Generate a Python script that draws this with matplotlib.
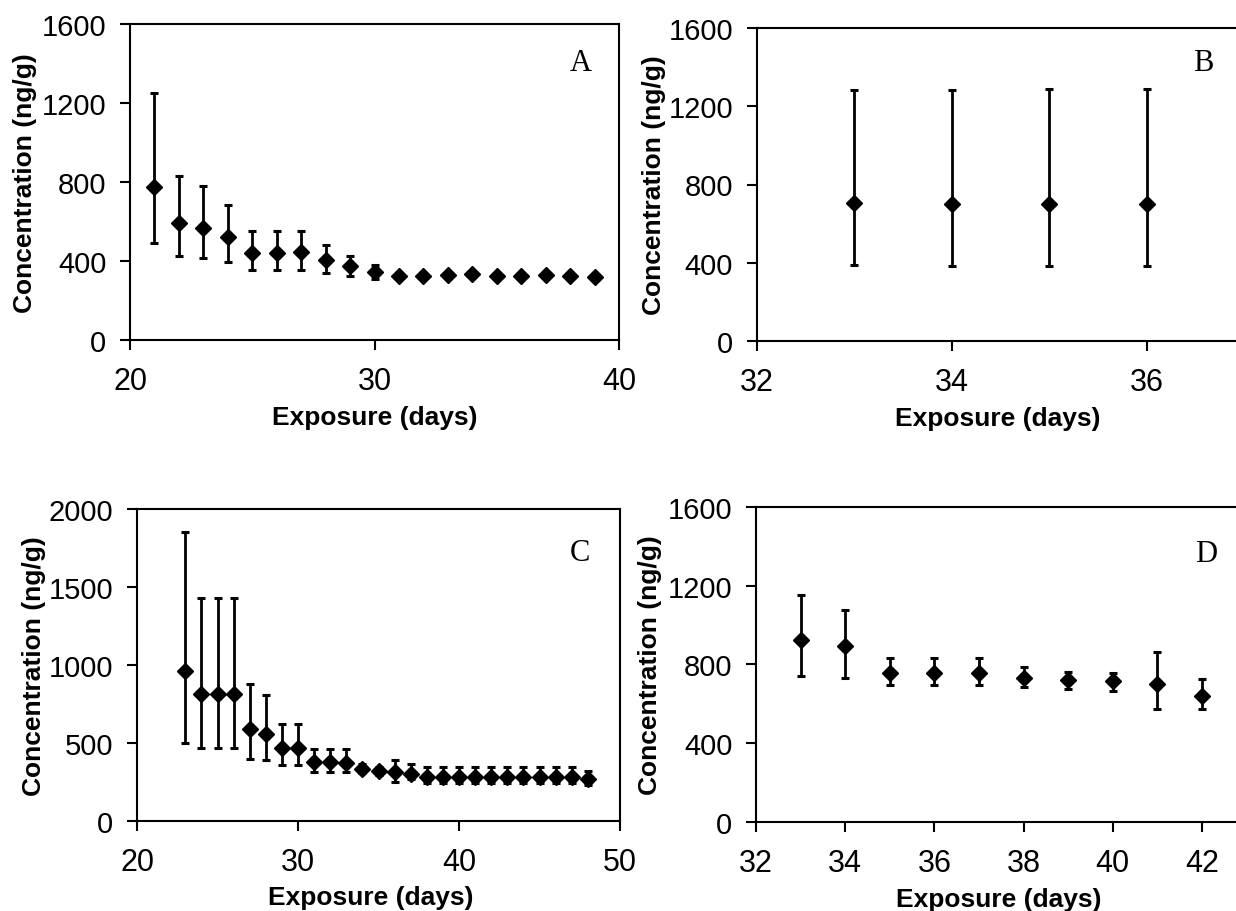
import matplotlib
matplotlib.use("Agg")
import matplotlib.pyplot as plt

# Panel A
days_a = list(range(21, 40))
conc_a = [777, 592, 567, 520, 439, 439, 444, 407, 373, 343,
          326, 326, 329, 334, 326, 326, 329, 326, 321]
low_a = [491, 424, 415, 396, 356, 356, 356, 339, 322, 309,
         316, 316, 319, 324, 316, 316, 319, 316, 311]
high_a = [1251, 832, 778, 685, 550, 550, 550, 479, 425, 380,
          336, 336, 339, 344, 336, 336, 339, 336, 331]

# Panel B
days_b = [33, 34, 35, 36]
conc_b = [703, 700, 700, 700]
low_b = [388, 384, 384, 384]
high_b = [1283, 1284, 1286, 1286]

# Panel C
days_c = list(range(23, 49))
conc_c = [959, 813, 813, 813, 589, 557, 465, 471, 379, 379, 375, 336, 321,
          315, 300, 285, 285, 285, 285, 285, 285, 285, 285, 285, 285, 268]
low_c = [497, 467, 467, 467, 396, 392, 358, 358, 315, 315, 315, 306, 293,
         250, 268, 246, 246, 246, 246, 246, 246, 246, 246, 246, 246, 229]
high_c = [1855, 1432, 1432, 1432, 878, 809, 621, 621, 460, 460, 460, 364, 343,
          392, 364, 343, 343, 343, 343, 343, 343, 343, 343, 343, 343, 321]

# Panel D
days_d = list(range(33, 43))
conc_d = [925, 891, 755, 755, 755, 730, 718, 713, 699, 640]
low_d = [742, 733, 694, 694, 694, 684, 677, 667, 572, 572]
high_d = [1154, 1078, 830, 830, 830, 786, 762, 758, 862, 725]

W, H = 1236, 912


def box(left, top, right, bottom):
    # pixel box -> figure fraction
    return [left / W, 1 - bottom / H, (right - left) / W, (bottom - top) / H]


def panel(ax, x, y, lo, hi, xlim, xticks, ylim, yticks, letter, letter_pos,
          ylab_x, xlab_x):
    yerr = [[m - l for m, l in zip(y, lo)], [h - m for m, h in zip(y, hi)]]
    ax.errorbar(x, y, yerr=yerr, fmt='D', color='black', ms=7.8,
                elinewidth=2.0, capsize=2.8, capthick=2.2, zorder=3)
    ax.set_xlim(*xlim)
    ax.set_ylim(*ylim)
    ax.set_xticks(xticks)
    ax.set_yticks(yticks)
    for s in ax.spines.values():
        s.set_linewidth(1.5)
    ax.tick_params(direction='out', length=7, width=1.5)
    ax.tick_params(axis='y', pad=10)
    ax.tick_params(axis='x', pad=12)
    for t in ax.get_yticklabels():
        t.set_fontfamily('Liberation Sans')
        t.set_fontsize(21)
    for t in ax.get_xticklabels():
        t.set_fontfamily('Liberation Sans')
        t.set_fontsize(22)
    ax.set_ylabel('Concentration (ng/g)', fontsize=19, fontweight='bold',
                  fontfamily='Liberation Sans', va='center')
    ax.yaxis.set_label_coords(ylab_x, 0.5)
    ax.set_xlabel('Exposure (days)', fontsize=19, fontweight='bold',
                  fontfamily='Liberation Sans', va='center')
    ax.xaxis.set_label_coords(xlab_x, -0.245)
    ax.text(letter_pos[0], letter_pos[1], letter, transform=ax.transAxes,
            fontfamily='Liberation Serif', fontsize=22, ha='center',
            va='center')


fig = plt.figure(figsize=(12.36, 9.12), dpi=100)

ax_a = fig.add_axes(box(130, 25, 619, 341))
panel(ax_a, days_a, conc_a, low_a, high_a, (20, 40), [20, 30, 40],
      (0, 1600), [0, 400, 800, 1200, 1600], 'A', (0.922, 0.878),
      -0.215, 0.5)

# right part of panels B and D runs past the page edge, as in the original
ax_b = fig.add_axes(box(756.5, 29, 756.5 + 6 * 97.5, 342))
panel(ax_b, days_b, conc_b, low_b, high_b, (32, 38), [32, 34, 36],
      (0, 1600), [0, 400, 800, 1200, 1600], 'B', (0.763, 0.89),
      -0.175, 0.413)

ax_c = fig.add_axes(box(137, 510, 620, 822))
panel(ax_c, days_c, conc_c, low_c, high_c, (20, 50), [20, 30, 40, 50],
      (0, 2000), [0, 500, 1000, 1500, 2000], 'C', (0.917, 0.859),
      -0.214, 0.484)

ax_d = fig.add_axes(box(756, 508, 756 + 12 * 44.6, 822.7))
panel(ax_d, days_d, conc_d, low_d, high_d, (32, 44), [32, 34, 36, 38, 40, 42],
      (0, 1600), [0, 400, 800, 1200, 1600], 'D', (0.841, 0.853),
      -0.198, 0.454)

fig.savefig('out.png', dpi=100)
plt.close(fig)
